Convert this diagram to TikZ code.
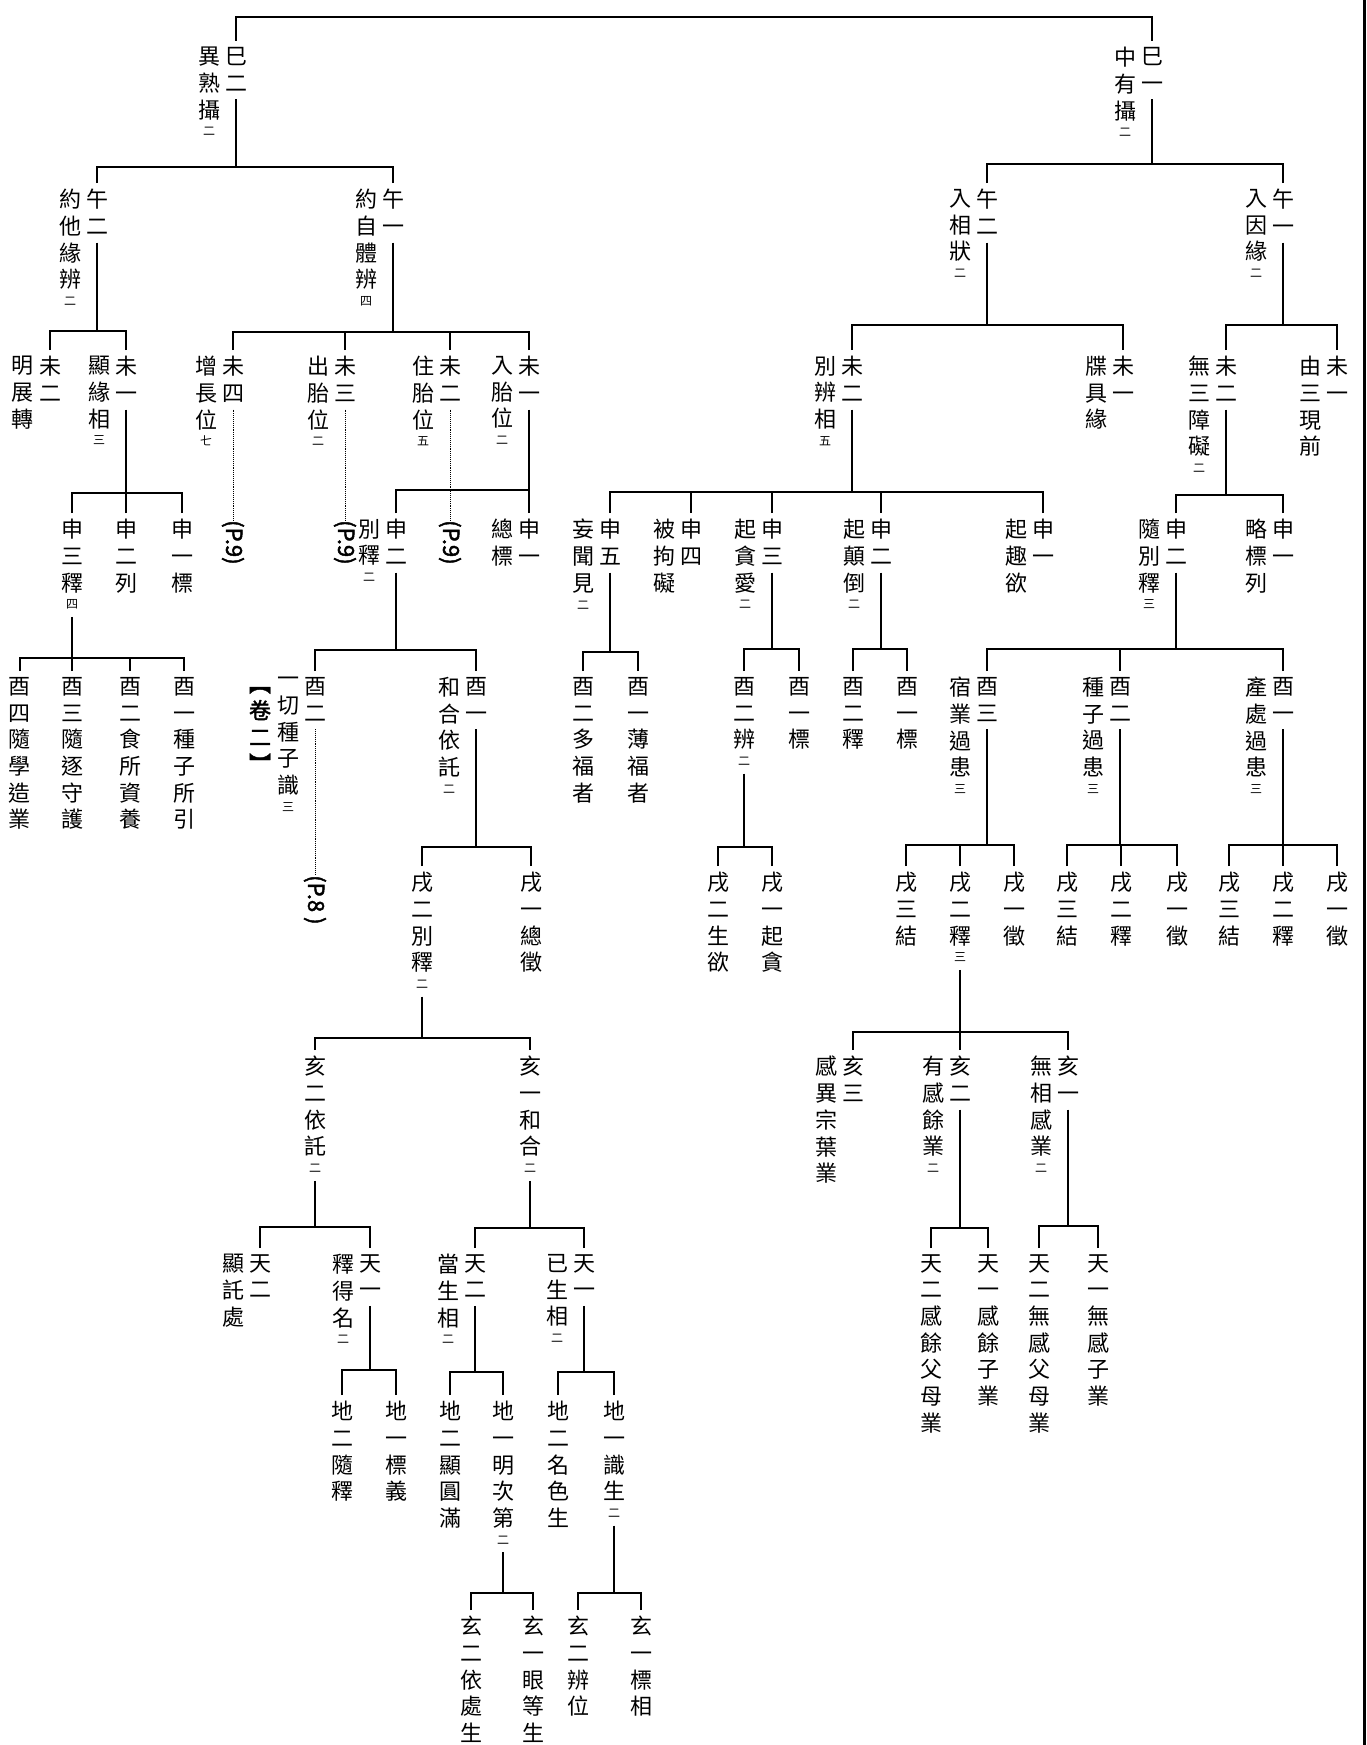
\documentclass[tikz,border=0pt]{standalone}
\usepackage{fontspec}
\newfontfamily\cjk{Noto Sans CJK TC}[AutoFakeBold=2]
\newcommand\sm[1]{\\[-9pt]{\fontsize{12}{12}\selectfont #1}}
\newcommand\kids[3]{%
  \draw[wire] (#1.south) -- (#1.south |- 0,#2);
  \foreach \kid in {#3}{\draw[wire,drop] (\kid.north) |- (#1.south |- 0,#2);}}

\begin{document}
\begin{tikzpicture}[x=1pt, y=-1pt,
  lbl/.style={anchor=north, align=center, inner xsep=0pt, inner ysep=2pt,
    font=\cjk\fontsize{22}{26.7}\selectfont,
    execute at begin node={\rule{0pt}{19pt}},
    execute at end node={\rule[-6pt]{0pt}{6pt}}},
  pg/.style={anchor=west, rotate=-90, inner sep=0pt,
    font=\cjk\bfseries\fontsize{22}{22}\selectfont},
  wire/.style={line width=1.7pt},
  drop/.style={shorten <=4pt},
  dots/.style={line width=0.9pt, densely dotted}]
    \useasboundingbox (0,0) rectangle (1367,1745);
    \draw[line width=3pt] (1364.5,0) -- (1364.5,1745);

    % si
    \node[lbl] (si2) at (236,45) {巳\\二};
    \node[lbl] at ([xshift=-27pt]si2.north) {異\\熟\\攝\sm{二}};
    \node[lbl] (si1) at (1152,45) {巳\\一};
    \node[lbl] at ([xshift=-27pt]si1.north) {中\\有\\攝\sm{二}};

    % wu
    \node[lbl] (wuA2) at (97,187) {午\\二};
    \node[lbl] at ([xshift=-27pt]wuA2.north) {約\\他\\緣\\辨\sm{二}};
    \node[lbl] (wuA1) at (393,187) {午\\一};
    \node[lbl] at ([xshift=-27pt]wuA1.north) {約\\自\\體\\辨\sm{四}};
    \node[lbl] (wuB2) at (987,187) {午\\二};
    \node[lbl] at ([xshift=-27pt]wuB2.north) {入\\相\\狀\sm{二}};
    \node[lbl] (wuB1) at (1283,187) {午\\一};
    \node[lbl] at ([xshift=-27pt]wuB1.north) {入\\因\\緣\sm{二}};

    % wei
    \node[lbl] (weiA2) at (50,354) {未\\二};
    \node[lbl] at ([xshift=-27pt]weiA2.north) {明\\展\\轉};
    \node[lbl] (weiA1) at (126,354) {未\\一};
    \node[lbl] at ([xshift=-27pt]weiA1.north) {顯\\緣\\相\sm{三}};
    \node[lbl] (weiB4) at (233,354) {未\\四};
    \node[lbl] at ([xshift=-27pt]weiB4.north) {增\\長\\位\sm{七}};
    \node[lbl] (weiB3) at (345,354) {未\\三};
    \node[lbl] at ([xshift=-27pt]weiB3.north) {出\\胎\\位\sm{二}};
    \node[lbl] (weiB2) at (450,354) {未\\二};
    \node[lbl] at ([xshift=-27pt]weiB2.north) {住\\胎\\位\sm{五}};
    \node[lbl] (weiB1) at (529,354) {未\\一};
    \node[lbl] at ([xshift=-27pt]weiB1.north) {入\\胎\\位\sm{二}};
    \node[lbl] (weiC2) at (852,354) {未\\二};
    \node[lbl] at ([xshift=-27pt]weiC2.north) {別\\辨\\相\sm{五}};
    \node[lbl] (weiC1) at (1123,354) {未\\一};
    \node[lbl] at ([xshift=-27pt]weiC1.north) {牒\\具\\緣};
    \node[lbl] (weiD2) at (1226,354) {未\\二};
    \node[lbl] at ([xshift=-27pt]weiD2.north) {無\\三\\障\\礙\sm{二}};
    \node[lbl] (weiD1) at (1337,354) {未\\一};
    \node[lbl] at ([xshift=-27pt]weiD1.north) {由\\三\\現\\前};

    % page refs
    \node[pg] (p9a) at (233,520) {(P.9)};
    \node[pg] (p9b) at (345,520) {(P.9)};
    \node[pg] (p9c) at (450,520) {(P.9)};
    \draw[dots] (weiB4.south) -- (p9a.west);
    \draw[dots] (weiB3.south) -- (p9b.west);
    \draw[dots] (weiB2.south) -- (p9c.west);

    % shen
    \node[lbl] (shenA3) at (72,517) {申\\三\\釋\sm{四}};
    \node[lbl] (shenA2) at (126,517) {申\\二\\列};
    \node[lbl] (shenA1) at (182,517) {申\\一\\標};
    \node[lbl] (shenB2) at (396,517) {申\\二};
    \node[lbl] at ([xshift=-27pt]shenB2.north) {別\\釋\sm{二}};
    \node[lbl] (shenB1) at (529,517) {申\\一};
    \node[lbl] at ([xshift=-27pt]shenB1.north) {總\\標};
    \node[lbl] (shenC5) at (610,517) {申\\五};
    \node[lbl] at ([xshift=-27pt]shenC5.north) {妄\\聞\\見\sm{二}};
    \node[lbl] (shenC4) at (691,517) {申\\四};
    \node[lbl] at ([xshift=-27pt]shenC4.north) {被\\拘\\礙};
    \node[lbl] (shenC3) at (772,517) {申\\三};
    \node[lbl] at ([xshift=-27pt]shenC3.north) {起\\貪\\愛\sm{二}};
    \node[lbl] (shenC2) at (881,517) {申\\二};
    \node[lbl] at ([xshift=-27pt]shenC2.north) {起\\顛\\倒\sm{二}};
    \node[lbl] (shenC1) at (1043,517) {申\\一};
    \node[lbl] at ([xshift=-27pt]shenC1.north) {起\\趣\\欲};
    \node[lbl] (shenD2) at (1176,517) {申\\二};
    \node[lbl] at ([xshift=-27pt]shenD2.north) {隨\\別\\釋\sm{三}};
    \node[lbl] (shenD1) at (1283,517) {申\\一};
    \node[lbl] at ([xshift=-27pt]shenD1.north) {略\\標\\列};

    % you
    \node[lbl] (youA4) at (20,675) {酉\\四\\隨\\學\\造\\業};
    \node[lbl] (youA3) at (72,675) {酉\\三\\隨\\逐\\守\\護};
    \node[lbl] (youA2) at (130,675) {酉\\二\\食\\所\\資\\養};
    \node[lbl] (youA1) at (184,675) {酉\\一\\種\\子\\所\\引};
    \node[lbl] (youB2) at (315,675) {酉\\二};
    \node[lbl] (youB2d) at ([xshift=-27pt]youB2.north) {一\\切\\種\\子\\識\sm{三}};
    \node[lbl, font=\cjk\bfseries\fontsize{22}{26.7}\selectfont] (juan) at ([xshift=-28pt,yshift=-10pt]youB2d.north) {︻\\卷\\二\\︼};
    \node[lbl] (youB1) at (476,675) {酉\\一};
    \node[lbl] at ([xshift=-27pt]youB1.north) {和\\合\\依\\託\sm{二}};
    \node[lbl] (youC2) at (583,675) {酉\\二\\多\\福\\者};
    \node[lbl] (youC1) at (638,675) {酉\\一\\薄\\福\\者};
    \node[lbl] (youD2) at (744,675) {酉\\二\\辨\sm{二}};
    \node[lbl] (youD1) at (799,675) {酉\\一\\標};
    \node[lbl] (youE2) at (853,675) {酉\\二\\釋};
    \node[lbl] (youE1) at (907,675) {酉\\一\\標};
    \node[lbl] (youF3) at (987,675) {酉\\三};
    \node[lbl] at ([xshift=-27pt]youF3.north) {宿\\業\\過\\患\sm{三}};
    \node[lbl] (youF2) at (1120,675) {酉\\二};
    \node[lbl] at ([xshift=-27pt]youF2.north) {種\\子\\過\\患\sm{三}};
    \node[lbl] (youF1) at (1283,675) {酉\\一};
    \node[lbl] at ([xshift=-27pt]youF1.north) {產\\處\\過\\患\sm{三}};
    \node[pg] (p8) at (315,875) {(P.8 )};
    \draw[dots] (youB2.south) -- (p8.west);

    % xu
    \node[lbl] (xuA2) at (422,870) {戌\\二\\別\\釋\sm{二}};
    \node[lbl] (xuA1) at (531,870) {戌\\一\\總\\徵};
    \node[lbl] (xuB2) at (718,870) {戌\\二\\生\\欲};
    \node[lbl] (xuB1) at (772,870) {戌\\一\\起\\貪};
    \node[lbl] (xuC3) at (906,870) {戌\\三\\結};
    \node[lbl] (xuC2) at (960,870) {戌\\二\\釋\sm{三}};
    \node[lbl] (xuC1) at (1014,870) {戌\\一\\徵};
    \node[lbl] (xuD3) at (1067,870) {戌\\三\\結};
    \node[lbl] (xuD2) at (1121,870) {戌\\二\\釋};
    \node[lbl] (xuD1) at (1177,870) {戌\\一\\徵};
    \node[lbl] (xuE3) at (1229,870) {戌\\三\\結};
    \node[lbl] (xuE2) at (1283,870) {戌\\二\\釋};
    \node[lbl] (xuE1) at (1337,870) {戌\\一\\徵};

    % hai
    \node[lbl] (haiA2) at (315,1054) {亥\\二\\依\\託\sm{二}};
    \node[lbl] (haiA1) at (530,1054) {亥\\一\\和\\合\sm{二}};
    \node[lbl] (haiB3) at (853,1054) {亥\\三};
    \node[lbl] at ([xshift=-27pt]haiB3.north) {感\\異\\宗\\葉\\業};
    \node[lbl] (haiB2) at (960,1054) {亥\\二};
    \node[lbl] at ([xshift=-27pt]haiB2.north) {有\\感\\餘\\業\sm{二}};
    \node[lbl] (haiB1) at (1068,1054) {亥\\一};
    \node[lbl] at ([xshift=-27pt]haiB1.north) {無\\相\\感\\業\sm{二}};

    % tian
    \node[lbl] (tianA2) at (260,1252) {天\\二};
    \node[lbl] at ([xshift=-27pt]tianA2.north) {顯\\託\\處};
    \node[lbl] (tianA1) at (370,1252) {天\\一};
    \node[lbl] at ([xshift=-27pt]tianA1.north) {釋\\得\\名\sm{二}};
    \node[lbl] (tianB2) at (475,1252) {天\\二};
    \node[lbl] at ([xshift=-27pt]tianB2.north) {當\\生\\相\sm{二}};
    \node[lbl] (tianB1) at (584,1252) {天\\一};
    \node[lbl] at ([xshift=-27pt]tianB1.north) {已\\生\\相\sm{二}};
    \node[lbl] (tianC2) at (931,1252) {天\\二\\感\\餘\\父\\母\\業};
    \node[lbl] (tianC1) at (988,1252) {天\\一\\感\\餘\\子\\業};
    \node[lbl] (tianD2) at (1039,1252) {天\\二\\無\\感\\父\\母\\業};
    \node[lbl] (tianD1) at (1098,1252) {天\\一\\無\\感\\子\\業};

    % di
    \node[lbl] (diA2) at (342,1399) {地\\二\\隨\\釋};
    \node[lbl] (diA1) at (396,1399) {地\\一\\標\\義};
    \node[lbl] (diB2) at (450,1399) {地\\二\\顯\\圓\\滿};
    \node[lbl] (diB1) at (503,1399) {地\\一\\明\\次\\第\sm{二}};
    \node[lbl] (diC2) at (558,1399) {地\\二\\名\\色\\生};
    \node[lbl] (diC1) at (614,1399) {地\\一\\識\\生\sm{二}};

    % xuan
    \node[lbl] (xuanA2) at (471,1614) {玄\\二\\依\\處\\生};
    \node[lbl] (xuanA1) at (533,1614) {玄\\一\\眼\\等\\生};
    \node[lbl] (xuanB2) at (578,1614) {玄\\二\\辨\\位};
    \node[lbl] (xuanB1) at (641,1614) {玄\\一\\標\\相};

    % wires
    \coordinate (top) at (694,17);
    \draw[wire,drop] (si2.north) |- (top);
    \draw[wire,drop] (si1.north) |- (top);
    \kids{si2}{167}{wuA2,wuA1}
    \kids{si1}{164}{wuB2,wuB1}
    \kids{wuA2}{331}{weiA2,weiA1}
    \kids{wuA1}{332}{weiB4,weiB3,weiB2,weiB1}
    \kids{wuB2}{325}{weiC2,weiC1}
    \kids{wuB1}{325}{weiD2,weiD1}
    \kids{weiA1}{493}{shenA3,shenA2,shenA1}
    \kids{weiB1}{490}{shenB2,shenB1}
    \kids{weiC2}{492}{shenC5,shenC4,shenC3,shenC2,shenC1}
    \kids{weiD2}{495}{shenD2,shenD1}
    \kids{shenA3}{658}{youA4,youA3,youA2,youA1}
    \kids{shenB2}{650}{youB2,youB1}
    \kids{shenC5}{652}{youC2,youC1}
    \kids{shenC3}{649}{youD2,youD1}
    \kids{shenC2}{649}{youE2,youE1}
    \kids{shenD2}{649}{youF3,youF2,youF1}
    \kids{youB1}{847}{xuA2,xuA1}
    \kids{youD2}{847}{xuB2,xuB1}
    \kids{youF3}{845}{xuC3,xuC2,xuC1}
    \kids{youF2}{845}{xuD3,xuD2,xuD1}
    \kids{youF1}{845}{xuE3,xuE2,xuE1}
    \kids{xuA2}{1038}{haiA2,haiA1}
    \kids{xuC2}{1032}{haiB3,haiB2,haiB1}
    \kids{haiA2}{1227}{tianA2,tianA1}
    \kids{haiA1}{1228}{tianB2,tianB1}
    \kids{haiB2}{1228}{tianC2,tianC1}
    \kids{haiB1}{1226}{tianD2,tianD1}
    \kids{tianA1}{1370}{diA2,diA1}
    \kids{tianB2}{1372}{diB2,diB1}
    \kids{tianB1}{1372}{diC2,diC1}
    \kids{diB1}{1593}{xuanA2,xuanA1}
    \kids{diC1}{1593}{xuanB2,xuanB1}
\end{tikzpicture}
\end{document}
